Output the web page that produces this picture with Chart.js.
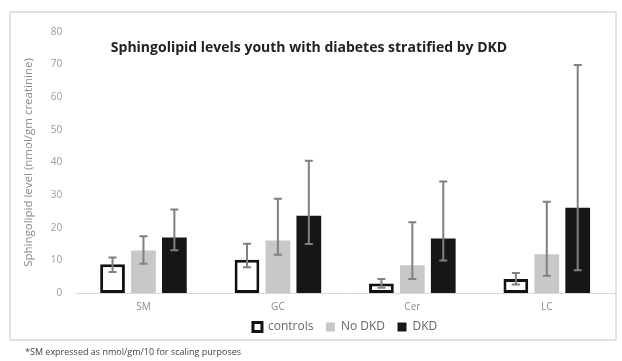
<!DOCTYPE html>
<html>
<head>
<meta charset="utf-8">
<script src="https://cdn.jsdelivr.net/npm/chart.js@4/dist/chart.umd.min.js"></script>
<style>
  html, body { margin: 0; padding: 0; background: #fff; }
  #wrap { width: 622px; height: 361px; position: relative; }
</style>
</head>
<body>
<div id="wrap"><canvas id="sphChart"></canvas></div>
<script>
const categories = ['SM', 'GC', 'Cer', 'LC'];

const controls = [8.8, 10.2, 2.9, 4.3];
const controlsLow = [6.4, 7.9, 1.6, 2.6];
const controlsHigh = [10.9, 15.1, 4.3, 6.1];

const noDkd = [13.0, 16.1, 8.5, 11.9];
const noDkdLow = [9.0, 11.7, 4.3, 5.3];
const noDkdHigh = [17.4, 28.9, 21.7, 28.0];

const dkd = [17.0, 23.7, 16.7, 26.1];
const dkdLow = [13.1, 15.0, 10.0, 7.0];
const dkdHigh = [25.6, 40.5, 34.2, 69.9];

const yTicks = [0, 10, 20, 30, 40, 50, 60, 70, 80];

const titleText = 'Sphingolipid levels youth with diabetes stratified by DKD';
const footnoteText = '*SM expressed as nmol/gm/10 for scaling purposes';

const errors = [
    {low: controlsLow, high: controlsHigh},
    {low: noDkdLow, high: noDkdHigh},
    {low: dkdLow, high: dkdHigh},
];

// frame, overlaid title and footnote
const decorPlugin = {
    id: 'decor',
    beforeDraw(chart) {
        const c = chart.ctx;
        c.save();
        c.fillStyle = '#ffffff';
        c.fillRect(0, 0, chart.width, chart.height);
        c.strokeStyle = '#e2e2e2';
        c.lineWidth = 2;
        c.strokeRect(10, 12, 606, 328);
        c.restore();
    },
    afterDraw(chart) {
        const c = chart.ctx;
        c.save();
        c.fillStyle = '#222';
        c.font = 'bold 14px "Open Sans"';
        c.textAlign = 'center';
        c.textBaseline = 'middle';
        c.fillText(titleText, 309, 48);
        c.fillStyle = '#444';
        c.font = '9px "Open Sans"';
        c.textAlign = 'left';
        c.fillText(footnoteText, 25, 352);
        c.restore();
    }
};

const errorBarPlugin = {
    id: 'errorBars',
    afterDatasetsDraw(chart) {
        const c = chart.ctx;
        const y = chart.scales.y;
        c.save();
        c.strokeStyle = '#808080';
        c.lineWidth = 2;
        errors.forEach((err, i) => {
            const meta = chart.getDatasetMeta(i);
            meta.data.forEach((bar, j) => {
                const yHi = y.getPixelForValue(err.high[j]);
                const yLo = y.getPixelForValue(err.low[j]);
                c.beginPath();
                c.moveTo(bar.x, yHi);
                c.lineTo(bar.x, yLo);
                c.moveTo(bar.x - 4, yHi);
                c.lineTo(bar.x + 4, yHi);
                c.moveTo(bar.x - 4, yLo);
                c.lineTo(bar.x + 4, yLo);
                c.stroke();
            });
        });
        c.restore();
    }
};

new Chart(document.getElementById('sphChart').getContext('2d'), {
    type: 'bar',
    data: {
        labels: categories,
        datasets: [
            {
                label: 'controls',
                data: controls,
                backgroundColor: '#ffffff',
                borderColor: '#111111',
                borderWidth: 3,
                borderSkipped: false,
            },
            {
                label: 'No DKD',
                data: noDkd,
                backgroundColor: '#c8c8c8',
                borderWidth: 0,
            },
            {
                label: 'DKD',
                data: dkd,
                backgroundColor: '#161616',
                borderWidth: 0,
            },
        ],
    },
    options: {
        responsive: true,
        maintainAspectRatio: false,
        animation: false,
        categoryPercentage: 0.69,
        barPercentage: 0.8,
        layout: {
            padding: {top: 32, left: 22, right: 8, bottom: 18},
        },
        scales: {
            x: {
                grid: {display: false, drawTicks: false},
                border: {color: '#d9d9d9', width: 1},
                ticks: {
                    color: '#8a8a8a',
                    font: {family: 'Open Sans', size: 10, lineHeight: 1.0},
                    padding: 9,
                },
            },
            y: {
                min: 0,
                max: 80,
                afterBuildTicks: axis => { axis.ticks = yTicks.map(v => ({value: v})); },
                grid: {display: false, drawTicks: false},
                border: {display: false},
                ticks: {
                    color: '#9a9a9a',
                    font: {family: 'Open Sans', size: 10},
                    padding: 14,
                },
                title: {
                    display: true,
                    text: 'Sphingolipid level (nmol/gm creatinine)',
                    color: '#8a8a8a',
                    font: {family: 'Open Sans', size: 11.5},
                    padding: {top: 0, bottom: 1},
                },
            },
        },
        plugins: {
            legend: {
                position: 'bottom',
                fullSize: false,
                labels: {
                    boxWidth: 9,
                    boxHeight: 9,
                    color: '#666',
                    font: {family: 'Open Sans', size: 12},
                    padding: 0,
                    generateLabels: chart => {
                        const items = Chart.defaults.plugins.legend.labels.generateLabels(chart);
                        return items.map((it, i) => ({...it, text: i < items.length - 1 ? it.text + '    ' : it.text}));
                    },
                },
            },
            tooltip: {enabled: false},
        },
    },
    plugins: [decorPlugin, errorBarPlugin],
});
</script>
</body>
</html>
